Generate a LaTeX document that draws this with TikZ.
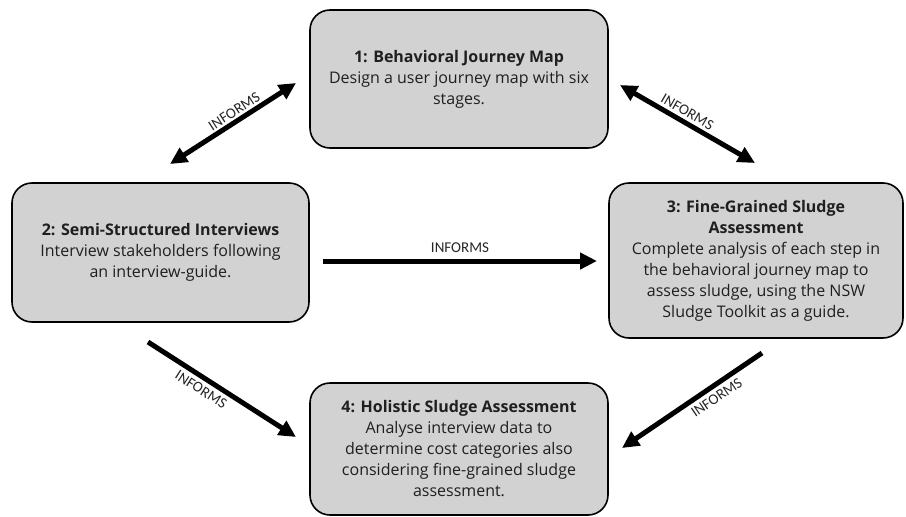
\documentclass[tikz,border=0pt]{standalone}
\usepackage{fontspec}
\setmainfont{Open Sans}
\newfontfamily\tagfont{Carlito}
\usetikzlibrary{arrows.meta}

\begin{document}
\begin{tikzpicture}[x=1pt,y=-1pt,
    stage/.style={draw=black,line width=1.6pt,fill=gray!35,rounded corners=20pt,align=center,
      text=black!88,font=\fontsize{16}{21}\selectfont,inner sep=0pt},
    informs/.style={line width=5pt,-{Triangle[length=17pt,width=16pt]}},
    twoway/.style={line width=5pt,{Triangle[length=17pt,width=16pt]}-{Triangle[length=17pt,width=16pt]}},
    tag/.style={font=\tagfont\fontsize{15}{15}\selectfont,text=black!85,inner sep=1pt}]
\useasboundingbox (0,0) rectangle (906,517);

\node[stage,minimum width=298pt,minimum height=138pt] (journey) at (459,79)
  {\textbf{1: Behavioral Journey Map}\\Design a user journey map with six\\stages.};
\node[stage,minimum width=297pt,minimum height=139pt] (interviews) at (160.5,252.5)
  {\textbf{2: Semi-Structured Interviews}\\Interview stakeholders following\\an interview-guide.};
\node[stage,minimum width=294pt,minimum height=155pt] (finegrained) at (756,260.5)
  {\textbf{3: Fine-Grained Sludge}\\\textbf{Assessment}\\Complete analysis of each step in\\the behavioral journey map to\\assess sludge, using the NSW\\Sludge Toolkit as a guide.};
\node[stage,minimum width=298pt,minimum height=132pt] (holistic) at (459,449)
  {\textbf{4: Holistic Sludge Assessment}\\Analyse interview data to\\determine cost categories also\\considering fine-grained sludge\\assessment.};

\coordinate (iv-up) at (170,164);
\coordinate (jm-left) at (296,83);
\coordinate (jm-right) at (620,85);
\coordinate (fg-up) at (755,163);
\coordinate (iv-right) at (323,261);
\coordinate (fg-left) at (597,261);
\coordinate (iv-down) at (148,342);
\coordinate (ho-left) at (296,437);
\coordinate (fg-down) at (762,353);
\coordinate (ho-right) at (622,448);

\draw[twoway] (iv-up) -- node[tag,sloped,pos=0.55,above=1pt] {INFORMS} (jm-left);
\draw[twoway] (jm-right) -- node[tag,sloped,pos=0.46,above=2pt] {INFORMS} (fg-up);
\draw[informs] (iv-right) -- node[tag,above=5pt] {INFORMS} (fg-left);
\draw[informs] (iv-down) -- node[tag,sloped,pos=0.4,below=3pt] {INFORMS} (ho-left);
\draw[informs] (fg-down) -- node[tag,sloped,pos=0.37,below=3pt] {INFORMS} (ho-right);
\end{tikzpicture}
\end{document}
